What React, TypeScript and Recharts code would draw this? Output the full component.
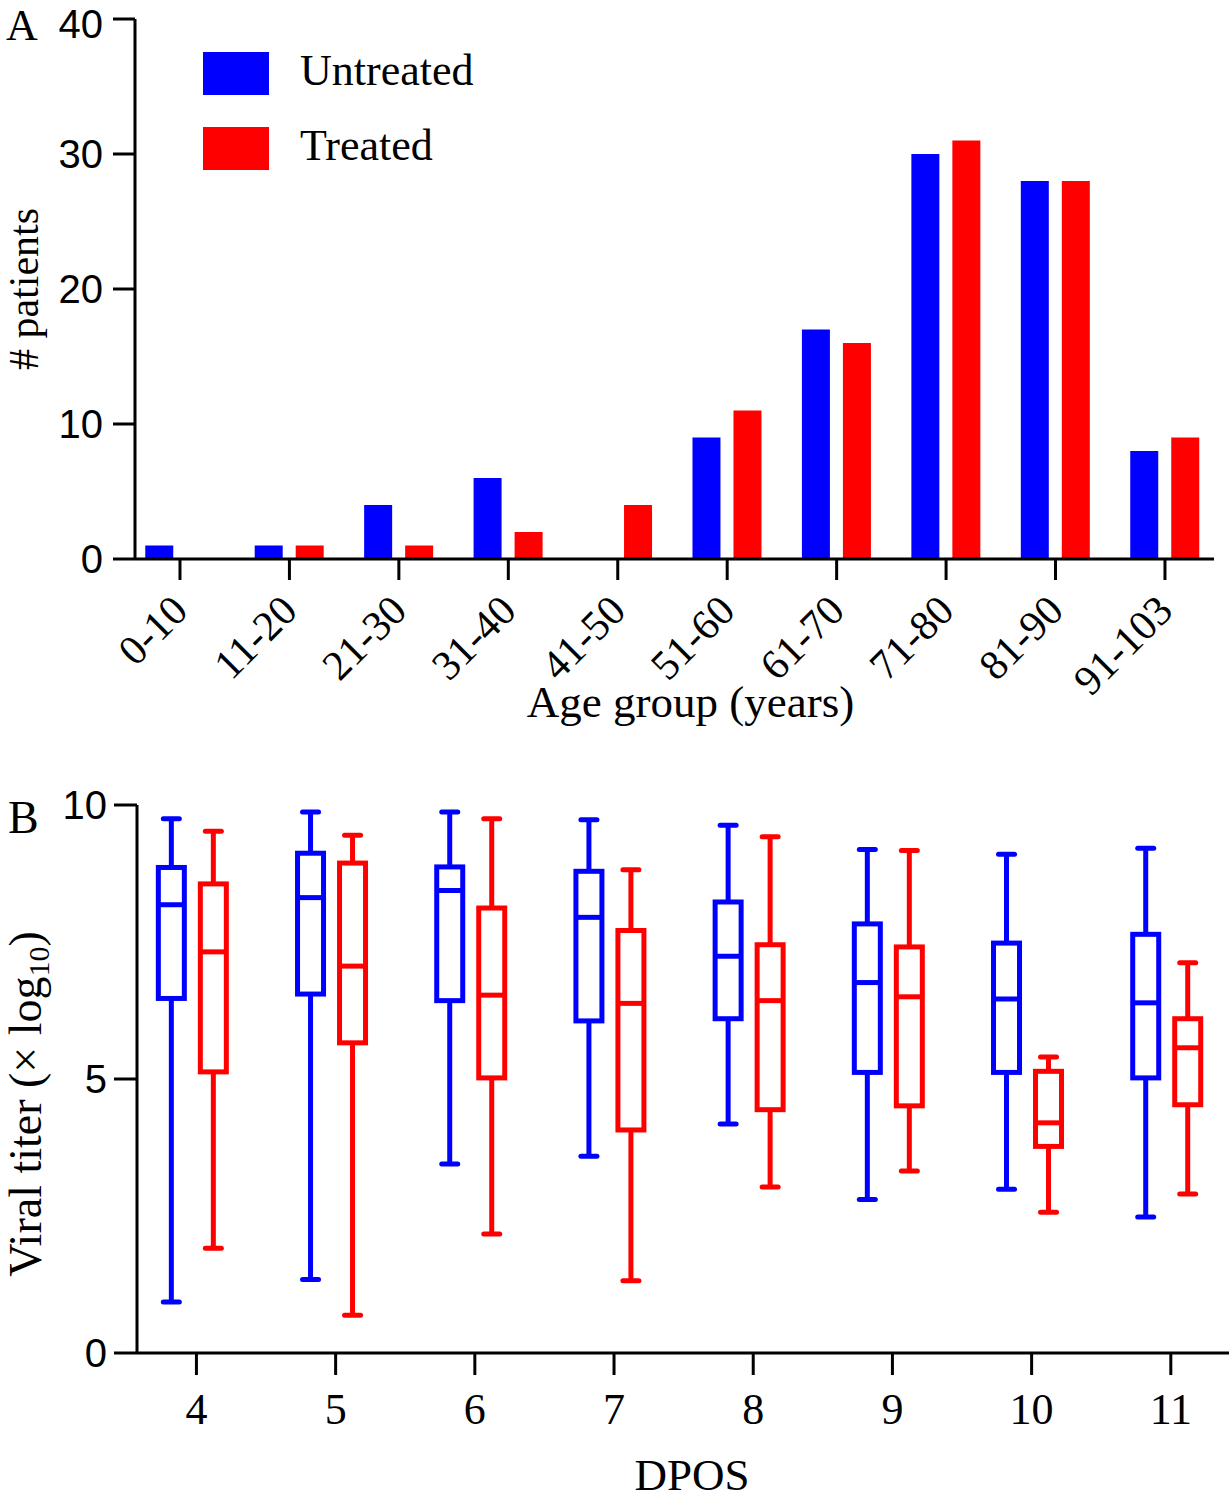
import React from "react";
import { Bar, ComposedChart, Label, Legend, XAxis, YAxis } from "recharts";

const SERIF = '"Liberation Serif", "Times New Roman", serif';
const SANS = '"Liberation Sans", Arial, sans-serif';
const BLUE = "#0000ff";
const RED = "#ff0000";

// Panel A: patients per age group
const ageGroups = ["0-10", "11-20", "21-30", "31-40", "41-50", "51-60", "61-70", "71-80", "81-90", "91-103"];
const untreatedCounts = [1, 1, 4, 6, 0, 9, 17, 30, 28, 8];
const treatedCounts = [0, 1, 1, 2, 4, 11, 16, 31, 28, 9];
const countTicks = [0, 10, 20, 30, 40];
const legendOrder = ["Untreated", "Treated"];

// Panel B: viral titer per day post onset of symptoms
const days = [4, 5, 6, 7, 8, 9, 10, 11];
const untreatedMin = [0.93, 1.34, 3.45, 3.59, 4.18, 2.8, 2.99, 2.48];
const untreatedQ1 = [6.47, 6.55, 6.43, 6.06, 6.1, 5.12, 5.12, 5.02];
const untreatedMedian = [8.18, 8.31, 8.44, 7.95, 7.24, 6.76, 6.46, 6.39];
const untreatedQ3 = [8.86, 9.12, 8.87, 8.79, 8.23, 7.83, 7.48, 7.64];
const untreatedMax = [9.75, 9.87, 9.87, 9.73, 9.63, 9.19, 9.1, 9.21];
const treatedMin = [1.91, 0.69, 2.17, 1.32, 3.03, 3.32, 2.57, 2.9];
const treatedQ1 = [5.13, 5.66, 5.02, 4.07, 4.44, 4.51, 3.77, 4.53];
const treatedMedian = [7.32, 7.06, 6.53, 6.38, 6.43, 6.5, 4.2, 5.57];
const treatedQ3 = [8.56, 8.94, 8.12, 7.71, 7.45, 7.41, 5.14, 6.1];
const treatedMax = [9.52, 9.45, 9.75, 8.82, 9.42, 9.17, 5.4, 7.12];
const titerTicks = [0, 5, 10];

const ageData = ageGroups.map((group, i) => ({
  idx: i,
  group,
  untreated: untreatedCounts[i],
  treated: treatedCounts[i],
}));

const titerData = days.map((day, i) => ({
  day,
  untreated: {
    min: untreatedMin[i],
    q1: untreatedQ1[i],
    median: untreatedMedian[i],
    q3: untreatedQ3[i],
    max: untreatedMax[i],
  },
  treated: {
    min: treatedMin[i],
    q1: treatedQ1[i],
    median: treatedMedian[i],
    q3: treatedQ3[i],
    max: treatedMax[i],
  },
}));

function AgeTick(props: any) {
  const { x, y, payload } = props;
  const ax = x + 10;
  const ay = y + 31;
  return (
    <text
      x={ax}
      y={ay}
      transform={`rotate(-45 ${ax} ${ay})`}
      textAnchor="end"
      fontFamily={SERIF}
      fontSize={42}
      fill="#000"
    >
      {ageGroups[payload.value]}
    </text>
  );
}

function LegendBox(props: any) {
  const items = [...(props.payload || [])].sort(
    (a: any, b: any) => legendOrder.indexOf(a.value) - legendOrder.indexOf(b.value)
  );
  return (
    <div>
      {items.map((entry: any) => (
        <div
          key={entry.value}
          style={{ display: "flex", alignItems: "center", height: 43, marginBottom: 32 }}
        >
          <div style={{ width: 66, height: 43, background: entry.color }} />
          <span
            style={{
              marginLeft: 31,
              fontFamily: SERIF,
              fontSize: 44,
              lineHeight: "43px",
              color: "#000",
              position: "relative",
              top: -3,
            }}
          >
            {entry.value}
          </span>
        </div>
      ))}
    </div>
  );
}

// box + whiskers drawn inside the [min, max] range bar
function makeBoxShape(group: "untreated" | "treated", color: string) {
  return (props: any) => {
    const { x, y, width, height, payload } = props;
    const s = payload[group];
    const top = Math.min(y, y + height);
    const ppu = Math.abs(height) / (s.max - s.min);
    const py = (v: number) => top + (s.max - v) * ppu;
    const cx = x + width / 2 - 4;
    const half = 13;
    const cap = 8;
    return (
      <g stroke={color} strokeWidth={5} fill="none">
        <line x1={cx} x2={cx} y1={py(s.max)} y2={py(s.q3)} />
        <line x1={cx} x2={cx} y1={py(s.q1)} y2={py(s.min)} />
        <line x1={cx - cap} x2={cx + cap} y1={py(s.max)} y2={py(s.max)} strokeLinecap="round" />
        <line x1={cx - cap} x2={cx + cap} y1={py(s.min)} y2={py(s.min)} strokeLinecap="round" />
        <rect x={cx - half} y={py(s.q3)} width={half * 2} height={py(s.q1) - py(s.q3)} />
        <line x1={cx - half} x2={cx + half} y1={py(s.median)} y2={py(s.median)} />
      </g>
    );
  };
}

const axisStroke = { stroke: "#000", strokeWidth: 3 };

function AgeChart() {
  return (
    <ComposedChart
      width={1229}
      height={740}
      data={ageData}
      margin={{ top: 19, right: 15, bottom: 0, left: 0 }}
      barSize={28}
      barGap={13}
    >
      <XAxis
        type="number"
        dataKey="idx"
        domain={[-0.411, 9.448]}
        allowDataOverflow
        ticks={ageData.map((d) => d.idx)}
        interval={0}
        height={181}
        tickSize={21}
        axisLine={axisStroke}
        tickLine={axisStroke}
        tick={<AgeTick />}
      >
        <Label
          content={(p: any) => {
            const vb = p.viewBox;
            return (
              <text
                x={vb.x + vb.width / 2 + 16}
                y={717}
                textAnchor="middle"
                fontFamily={SERIF}
                fontSize={45}
                fill="#000"
              >
                Age group (years)
              </text>
            );
          }}
        />
      </XAxis>
      <YAxis
        type="number"
        domain={[0, 40]}
        ticks={countTicks}
        width={135}
        tickSize={22}
        tickMargin={10}
        axisLine={axisStroke}
        tickLine={axisStroke}
        tick={{ fontSize: 40, fill: "#000", fontFamily: SANS }}
      >
        <Label
          content={(p: any) => {
            const vb = p.viewBox;
            const lx = vb.x + 38;
            const ly = vb.y + vb.height / 2;
            return (
              <text
                x={lx}
                y={ly}
                transform={`rotate(-90 ${lx} ${ly})`}
                textAnchor="middle"
                fontFamily={SERIF}
                fontSize={42}
                fill="#000"
              >
                # patients
              </text>
            );
          }}
        />
      </YAxis>
      <Legend
        layout="vertical"
        align="center"
        verticalAlign="middle"
        content={<LegendBox />}
        wrapperStyle={{ left: 203, top: 52, width: "auto" }}
      />
      <Bar dataKey="untreated" name="Untreated" fill={BLUE} isAnimationActive={false} />
      <Bar dataKey="treated" name="Treated" fill={RED} isAnimationActive={false} />
    </ComposedChart>
  );
}

function TiterChart() {
  return (
    <ComposedChart
      width={1229}
      height={740}
      data={titerData}
      margin={{ top: 45, right: 0, bottom: 0, left: 0 }}
      barSize={31}
      barGap={11}
    >
      <XAxis
        type="number"
        dataKey="day"
        domain={[3.573, 11.418]}
        allowDataOverflow
        ticks={days}
        interval={0}
        height={147}
        tickSize={22}
        tickMargin={18}
        axisLine={axisStroke}
        tickLine={axisStroke}
        tick={{ fontSize: 44, fill: "#000", fontFamily: SERIF }}
      >
        <Label
          content={(p: any) => {
            const vb = p.viewBox;
            return (
              <text
                x={vb.x + vb.width / 2 + 9}
                y={vb.y + vb.height - 10}
                textAnchor="middle"
                fontFamily={SERIF}
                fontSize={45}
                fill="#000"
              >
                DPOS
              </text>
            );
          }}
        />
      </XAxis>
      <YAxis
        type="number"
        domain={[0, 10]}
        ticks={titerTicks}
        width={137}
        tickSize={23}
        tickMargin={7}
        axisLine={axisStroke}
        tickLine={axisStroke}
        tick={{ fontSize: 40, fill: "#000", fontFamily: SANS }}
      >
        <Label
          content={(p: any) => {
            const vb = p.viewBox;
            const lx = vb.x + 41;
            const ly = vb.y + vb.height / 2 + 25;
            return (
              <text
                x={lx}
                y={ly}
                transform={`rotate(-90 ${lx} ${ly})`}
                textAnchor="middle"
                fontFamily={SERIF}
                fontSize={46}
                fill="#000"
              >
                Viral titer (× log
                <tspan fontSize={30} dy={8}>
                  10
                </tspan>
                <tspan dy={-8}>)</tspan>
              </text>
            );
          }}
        />
      </YAxis>
      <Bar
        dataKey={(d: any) => [d.untreated.min, d.untreated.max]}
        name="Untreated"
        fill={BLUE}
        shape={makeBoxShape("untreated", BLUE)}
        isAnimationActive={false}
      />
      <Bar
        dataKey={(d: any) => [d.treated.min, d.treated.max]}
        name="Treated"
        fill={RED}
        shape={makeBoxShape("treated", RED)}
        isAnimationActive={false}
      />
    </ComposedChart>
  );
}

export default function App() {
  return (
    <div
      style={{
        position: "absolute",
        left: 0,
        top: 0,
        width: 1229,
        height: 1500,
        background: "#fff",
        overflow: "hidden",
      }}
    >
      <div style={{ position: "absolute", left: 0, top: 0 }}>
        <AgeChart />
      </div>
      <div style={{ position: "absolute", left: 0, top: 760 }}>
        <TiterChart />
      </div>
      <svg
        width={1229}
        height={1500}
        style={{ position: "absolute", left: 0, top: 0, pointerEvents: "none" }}
      >
        <text x={6} y={40} fontFamily={SERIF} fontSize={44} fill="#000">
          A
        </text>
        <text x={8} y={833} fontFamily={SERIF} fontSize={46} fill="#000">
          B
        </text>
      </svg>
    </div>
  );
}
